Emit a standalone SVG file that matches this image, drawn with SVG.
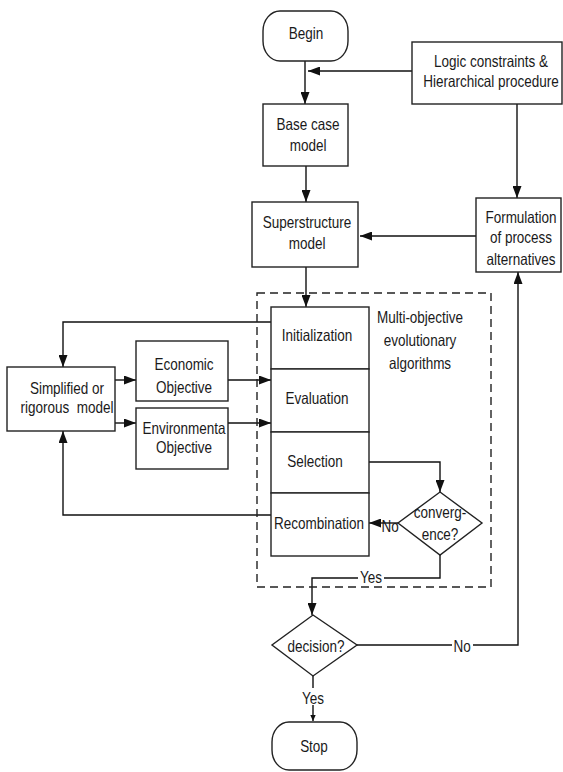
<svg xmlns="http://www.w3.org/2000/svg" width="563" height="772" viewBox="0 0 563 772">
<defs>
<marker id="ah" markerUnits="userSpaceOnUse" markerWidth="12" markerHeight="9" viewBox="0 0 12 9" refX="12" refY="4.5" orient="auto">
<path d="M0,0 L12,4.5 L0,9 Z" fill="#111"/>
</marker>
<marker id="ahs" markerUnits="userSpaceOnUse" markerWidth="6" markerHeight="6" viewBox="0 0 10 10" refX="10" refY="5" orient="auto">
<path d="M0,0.5 L10,5 L0,9.5 Z" fill="#111"/>
</marker>
</defs>
<style>
.box{fill:#fff;stroke:#222;stroke-width:1.4}
.ln{fill:none;stroke:#111;stroke-width:1.4}
.arr{fill:none;stroke:#111;stroke-width:1.4;marker-end:url(#ah)}
.t{font-family:"Liberation Sans",Arial,sans-serif;font-size:13.5px;fill:#1a1a1a;text-anchor:middle;white-space:pre}
.bg{fill:#fff}
</style>
<rect width="563" height="772" fill="#fff"/>

<g id="connectors">
<line class="arr" x1="305" y1="61" x2="305" y2="104"/>
<line class="arr" x1="412" y1="71" x2="308" y2="71"/>
<line class="arr" x1="517" y1="104" x2="517" y2="198"/>
<line class="arr" x1="306" y1="166" x2="306" y2="202"/>
<line class="arr" x1="476" y1="236" x2="360" y2="236"/>
<line class="arr" x1="306" y1="267" x2="306" y2="307"/>
<polyline class="arr" points="271,322 63,322 63,367"/>
<line class="arr" x1="115" y1="380" x2="136" y2="380"/>
<line class="arr" x1="115" y1="423" x2="136" y2="423"/>
<line class="arr" x1="228" y1="380" x2="271" y2="380"/>
<line class="arr" x1="228" y1="423" x2="271" y2="423"/>
<polyline class="arr" points="369,462 440,462 440,492"/>
<line class="arr" x1="398" y1="523" x2="369" y2="523"/>
<polyline class="arr" points="271,515 63,515 63,431"/>
<polyline class="arr" points="440,555 440,578 312,578 312,615"/>
<polyline class="arr" points="357,645 518,645 518,272"/>
<line class="ln" x1="313" y1="676" x2="313" y2="712"/>
<line style="fill:none;stroke:#111;stroke-width:1.4;marker-end:url(#ahs)" x1="313" y1="712" x2="313" y2="721"/>
</g>

<rect x="257" y="293" width="234" height="294" fill="none" stroke="#222" stroke-width="1.4" stroke-dasharray="8,5"/>

<g id="begin">
<rect class="box" x="263" y="11" width="85" height="50" rx="17" ry="20"/>
<text class="t" transform="matrix(1 0 0 1.25 306 39)">Begin</text>
</g>

<g id="logic">
<rect class="box" x="412" y="42" width="150" height="62"/>
<text class="t" transform="matrix(1 0 0 1.25 491 67)"><tspan x="0" y="0">Logic constraints &amp;</tspan><tspan x="0" y="16">Hierarchical procedure</tspan></text>
</g>

<g id="basecase">
<rect class="box" x="263" y="104" width="85" height="62"/>
<text class="t" transform="matrix(1 0 0 1.25 308 130)"><tspan x="0" y="0">Base case</tspan><tspan x="0" y="16.8">model</tspan></text>
</g>

<g id="superstructure">
<rect class="box" x="252" y="202" width="106" height="65"/>
<text class="t" transform="matrix(1 0 0 1.25 307 228)"><tspan x="0" y="0">Superstructure</tspan><tspan x="0" y="16.8">model</tspan></text>
</g>

<g id="formulation">
<rect class="box" x="476" y="198" width="85" height="74"/>
<text class="t" transform="matrix(1 0 0 1.25 521 223)"><tspan x="0" y="0">Formulation</tspan><tspan x="0" y="16">of process</tspan><tspan x="0" y="33.6">alternatives</tspan></text>
</g>

<g id="moea-label">
<text class="t" transform="matrix(1 0 0 1.25 420 323)"><tspan x="0" y="0">Multi-objective</tspan><tspan x="0" y="18.4">evolutionary</tspan><tspan x="0" y="36.8">algorithms</tspan></text>
</g>

<g id="initialization">
<rect class="box" x="271" y="307" width="98" height="62"/>
<text class="t" transform="matrix(1 0 0 1.25 317 341)">Initialization</text>
</g>
<g id="evaluation">
<rect class="box" x="271" y="369" width="98" height="63"/>
<text class="t" transform="matrix(1 0 0 1.25 317 404)">Evaluation</text>
</g>
<g id="selection">
<rect class="box" x="271" y="432" width="98" height="61"/>
<text class="t" transform="matrix(1 0 0 1.25 315 467)">Selection</text>
</g>
<g id="recombination">
<rect class="box" x="271" y="493" width="98" height="63"/>
<text class="t" transform="matrix(1 0 0 1.25 319 529)">Recombination</text>
</g>

<g id="convergence">
<polygon class="box" points="440,492 482,523 440,555 398,523"/>
<text class="t" transform="matrix(1 0 0 1.25 440 518)"><tspan x="0" y="0">converg-</tspan><tspan x="0" y="17.6">ence?</tspan></text>
</g>

<g id="simplified">
<rect class="box" x="7" y="367" width="108" height="64"/>
<text class="t" transform="matrix(1 0 0 1.25 67 394)"><tspan x="0" y="0">Simplified or</tspan><tspan x="0" y="15.2">rigorous  model</tspan></text>
</g>

<g id="economic">
<rect class="box" x="136" y="341" width="92" height="60"/>
<text class="t" transform="matrix(1 0 0 1.25 184 370)"><tspan x="0" y="0">Economic</tspan><tspan x="0" y="18.4">Objective</tspan></text>
</g>

<g id="environmental">
<rect class="box" x="136" y="408" width="92" height="61"/>
<text class="t" transform="matrix(1 0 0 1.25 184 434)"><tspan x="0" y="0">Environmenta</tspan><tspan x="0" y="15.2">Objective</tspan></text>
</g>

<g id="decision">
<polygon class="box" points="313,615 357,645 313,676 272,645"/>
<text class="t" transform="matrix(1 0 0 1.25 316 652)">decision?</text>
</g>

<g id="stop">
<rect class="box" x="272" y="722" width="85" height="48" rx="17" ry="20"/>
<text class="t" transform="matrix(1 0 0 1.25 314 752)">Stop</text>
</g>

<g id="labels">
<text class="t" transform="matrix(1 0 0 1.25 390 532)">No</text>
<rect class="bg" x="358" y="570" width="26" height="16"/>
<text class="t" transform="matrix(1 0 0 1.25 371 583)">Yes</text>
<rect class="bg" x="452" y="637" width="21" height="16"/>
<text class="t" transform="matrix(1 0 0 1.25 462 652)">No</text>
<rect class="bg" x="300" y="688" width="26" height="17"/>
<text class="t" transform="matrix(1 0 0 1.25 313 704)">Yes</text>
</g>
</svg>
